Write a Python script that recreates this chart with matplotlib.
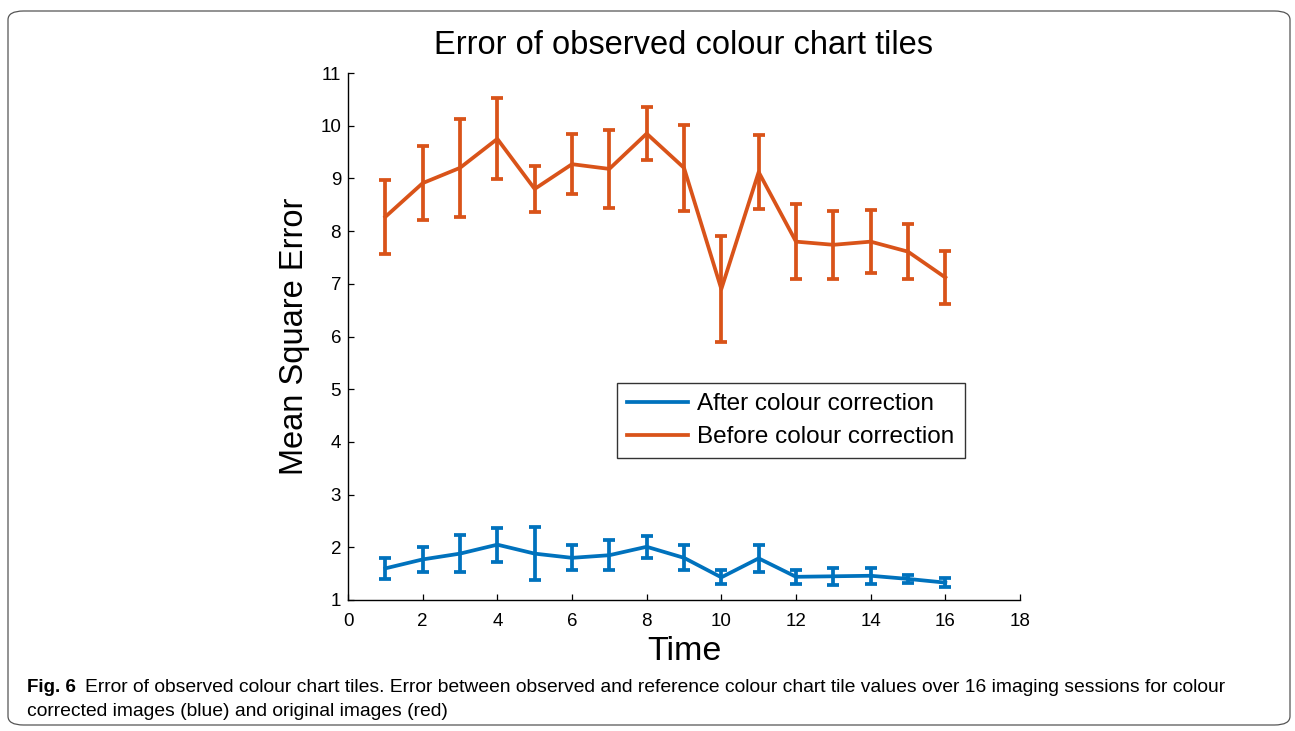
import matplotlib
matplotlib.use("Agg")
import matplotlib.pyplot as plt
from matplotlib.lines import Line2D
from matplotlib.patches import FancyBboxPatch

# Imaging sessions and per-session error (mean and half-width of the error bar)
sessions = list(range(1, 17))
before_mean = [8.27, 8.91, 9.20, 9.75, 8.80, 9.27, 9.18, 9.85, 9.20, 6.90, 9.12, 7.80, 7.74, 7.80, 7.61, 7.12]
before_err = [0.70, 0.70, 0.93, 0.77, 0.43, 0.57, 0.74, 0.50, 0.82, 1.01, 0.71, 0.71, 0.65, 0.60, 0.52, 0.50]
after_mean = [1.60, 1.77, 1.88, 2.05, 1.88, 1.80, 1.85, 2.01, 1.80, 1.43, 1.79, 1.44, 1.45, 1.46, 1.40, 1.33]
after_err = [0.20, 0.24, 0.35, 0.32, 0.50, 0.24, 0.28, 0.21, 0.24, 0.13, 0.25, 0.13, 0.16, 0.15, 0.08, 0.08]

C_BLUE = "#0072BD"
C_ORANGE = "#D95319"
FONT = ["Liberation Sans", "DejaVu Sans"]
LW = 2.7

plt.rcParams["font.family"] = FONT

fig = plt.figure(figsize=(12.95, 7.31), dpi=100)
fig.patch.set_facecolor("white")

# rounded frame around figure + caption
frame = FancyBboxPatch(
    (8 / 1295, 6 / 731), 1282 / 1295, 714 / 731,
    boxstyle="round,pad=0,rounding_size=0.012",
    transform=fig.transFigure, facecolor="none", edgecolor="#555555", linewidth=0.9,
)
fig.add_artist(frame)

ax = fig.add_axes([348 / 1295, 131 / 731, 672 / 1295, 527 / 731])

err_kw = dict(linewidth=LW, elinewidth=LW, capsize=4.5, capthick=LW)
ax.errorbar(sessions, after_mean, yerr=after_err, color=C_BLUE, **err_kw)
ax.errorbar(sessions, before_mean, yerr=before_err, color=C_ORANGE, **err_kw)

ax.set_xlim(0, 18)
ax.set_ylim(1, 11)
ax.set_xticks(range(0, 19, 2))
ax.set_yticks(range(1, 12))
for side in ("top", "right"):
    ax.spines[side].set_visible(False)
for side in ("left", "bottom"):
    ax.spines[side].set_linewidth(1.0)
ax.tick_params(direction="in", length=4, width=0.9, labelsize=13.5)
ax.tick_params(axis="x", pad=9)
ax.tick_params(axis="y", pad=5)

ax.set_title("Error of observed colour chart tiles", fontsize=23.5, pad=14)
ax.set_xlabel("Time", fontsize=24.5, labelpad=5)
ax.set_ylabel("Mean Square Error", fontsize=23.5, labelpad=7)

# legend with plain line handles
handles = [Line2D([], [], color=C_BLUE, linewidth=LW),
           Line2D([], [], color=C_ORANGE, linewidth=LW)]
labels = ["After colour correction", "Before colour correction"]
leg = ax.legend(handles, labels, loc="upper left", bbox_to_anchor=(0.40, 0.412),
                fontsize=17.5, frameon=True, fancybox=False, edgecolor="black",
                handlelength=2.5, handletextpad=0.4, borderpad=0.42,
                labelspacing=0.45, borderaxespad=0)
leg.get_frame().set_linewidth(1.0)

# figure caption
fig.text(27 / 1295, 1 - 688 / 731, "Fig. 6", fontsize=13.5, fontweight="bold",
         va="center", ha="left")
fig.text(85 / 1295, 1 - 688 / 731,
         "Error of observed colour chart tiles. Error between observed and reference colour chart "
         "tile values over 16 imaging sessions for colour",
         fontsize=13.85, va="center", ha="left")
fig.text(27 / 1295, 1 - 712 / 731, "corrected images (blue) and original images (red)",
         fontsize=13.85, va="center", ha="left")

fig.savefig("out.png", dpi=100, facecolor="white")
